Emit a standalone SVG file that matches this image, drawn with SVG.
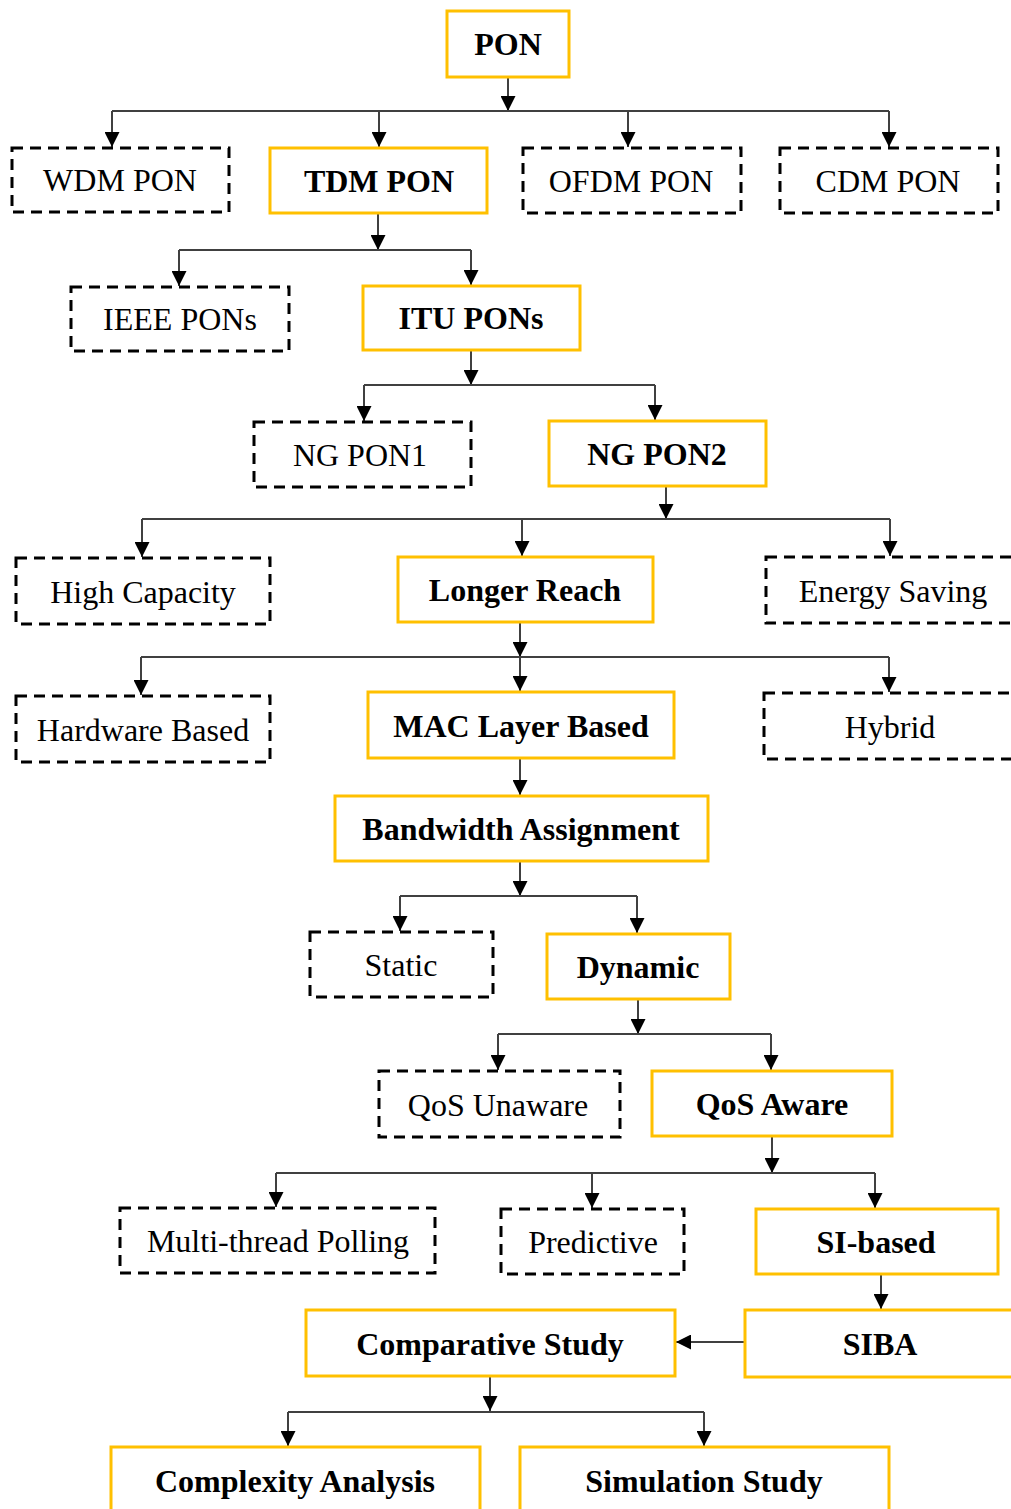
<svg xmlns="http://www.w3.org/2000/svg" width="1011" height="1509" viewBox="0 0 1011 1509">
<style>
.y{fill:#fff;stroke:#FFC000;stroke-width:3}
.d{fill:#fff;stroke:#000;stroke-width:3;stroke-dasharray:11 7}
.t{font-family:"Liberation Serif","Times New Roman",serif;font-size:32px;text-anchor:middle;fill:#000}
.b{font-weight:bold}
.c{fill:none;stroke:#404040;stroke-width:2}
.a{marker-end:url(#ah)}
</style>
<defs>
<marker id="ah" markerUnits="userSpaceOnUse" markerWidth="15" markerHeight="15" refX="15" refY="7.5" orient="auto" viewBox="0 0 15 15">
<path d="M0,0 L15,7.5 L0,15 z" fill="#000"/>
</marker>
</defs>
<rect width="1011" height="1509" fill="#fff"/>
<g id="connectors">
<path class="c a" d="M508,77 V111"/>
<path class="c" d="M112,111 H889"/>
<path class="c a" d="M112,111 V147"/>
<path class="c a" d="M379,111 V147"/>
<path class="c a" d="M628,111 V147"/>
<path class="c a" d="M889,111 V147"/>
<path class="c a" d="M378,213 V250"/>
<path class="c" d="M179,250 H471"/>
<path class="c a" d="M179,250 V286"/>
<path class="c a" d="M471,250 V285"/>
<path class="c a" d="M471,350 V385"/>
<path class="c" d="M364,385 H655"/>
<path class="c a" d="M364,385 V421"/>
<path class="c a" d="M655,385 V420"/>
<path class="c a" d="M666,486 V519"/>
<path class="c" d="M142,519 H890"/>
<path class="c a" d="M142,519 V557"/>
<path class="c a" d="M522,519 V556"/>
<path class="c a" d="M890,519 V556"/>
<path class="c a" d="M520,622 V657"/>
<path class="c" d="M141,657 H889"/>
<path class="c a" d="M141,657 V695"/>
<path class="c a" d="M520,657 V691"/>
<path class="c a" d="M889,657 V692"/>
<path class="c a" d="M520,758 V795"/>
<path class="c a" d="M520,861 V896"/>
<path class="c" d="M400,896 H637"/>
<path class="c a" d="M400,896 V931"/>
<path class="c a" d="M637,896 V933"/>
<path class="c a" d="M638,999 V1034"/>
<path class="c" d="M498,1034 H771"/>
<path class="c a" d="M498,1034 V1070"/>
<path class="c a" d="M771,1034 V1070"/>
<path class="c a" d="M772,1136 V1173"/>
<path class="c" d="M276,1173 H875"/>
<path class="c a" d="M276,1173 V1207"/>
<path class="c a" d="M592,1173 V1208"/>
<path class="c a" d="M875,1173 V1208"/>
<path class="c a" d="M881,1274 V1309"/>
<path class="c a" d="M745,1342 H676"/>
<path class="c a" d="M490,1376 V1411"/>
<path class="c" d="M288,1412 H704"/>
<path class="c a" d="M288,1412 V1446"/>
<path class="c a" d="M704,1412 V1446"/>
</g>
<g id="pon"><rect class="y" x="447" y="11" width="122" height="66"/><text class="t b" x="508" y="55">PON</text></g>
<g id="wdm"><rect class="d" x="12" y="148" width="217" height="64"/><text class="t" x="120" y="191">WDM PON</text></g>
<g id="tdm"><rect class="y" x="270" y="148" width="217" height="65"/><text class="t b" x="379" y="192">TDM PON</text></g>
<g id="ofdm"><rect class="d" x="523" y="148" width="218" height="65"/><text class="t" x="631" y="192">OFDM PON</text></g>
<g id="cdm"><rect class="d" x="780" y="148" width="218" height="65"/><text class="t" x="888" y="192">CDM PON</text></g>
<g id="ieee"><rect class="d" x="71" y="287" width="218" height="64"/><text class="t" x="180" y="330">IEEE PONs</text></g>
<g id="itu"><rect class="y" x="363" y="286" width="217" height="64"/><text class="t b" x="471" y="329">ITU PONs</text></g>
<g id="ngpon1"><rect class="d" x="254" y="422" width="217" height="65"/><text class="t" x="360" y="466">NG PON1</text></g>
<g id="ngpon2"><rect class="y" x="549" y="421" width="217" height="65"/><text class="t b" x="657" y="465">NG PON2</text></g>
<g id="highcap"><rect class="d" x="16" y="558" width="254" height="66"/><text class="t" x="143" y="603">High Capacity</text></g>
<g id="longer"><rect class="y" x="398" y="557" width="255" height="65"/><text class="t b" x="525" y="601">Longer Reach</text></g>
<g id="energy"><rect class="d" x="766" y="557" width="260" height="66"/><text class="t" x="893" y="602">Energy Saving</text></g>
<g id="hardware"><rect class="d" x="16" y="696" width="254" height="66"/><text class="t" x="143" y="741">Hardware Based</text></g>
<g id="mac"><rect class="y" x="368" y="692" width="306" height="66"/><text class="t b" x="521" y="737">MAC Layer Based</text></g>
<g id="hybrid"><rect class="d" x="764" y="693" width="262" height="66"/><text class="t" x="890" y="738">Hybrid</text></g>
<g id="bandwidth"><rect class="y" x="335" y="796" width="373" height="65"/><text class="t b" x="521" y="840">Bandwidth Assignment</text></g>
<g id="static"><rect class="d" x="310" y="932" width="183" height="65"/><text class="t" x="401" y="976">Static</text></g>
<g id="dynamic"><rect class="y" x="547" y="934" width="183" height="65"/><text class="t b" x="638" y="978">Dynamic</text></g>
<g id="qosunaware"><rect class="d" x="379" y="1071" width="241" height="66"/><text class="t" x="498" y="1116">QoS Unaware</text></g>
<g id="qosaware"><rect class="y" x="652" y="1071" width="240" height="65"/><text class="t b" x="772" y="1115">QoS Aware</text></g>
<g id="multithread"><rect class="d" x="120" y="1208" width="315" height="65"/><text class="t" x="278" y="1252">Multi-thread Polling</text></g>
<g id="predictive"><rect class="d" x="501" y="1209" width="183" height="65"/><text class="t" x="593" y="1253">Predictive</text></g>
<g id="sibased"><rect class="y" x="756" y="1209" width="242" height="65"/><text class="t b" x="876" y="1253">SI-based</text></g>
<g id="comparative"><rect class="y" x="306" y="1310" width="369" height="66"/><text class="t b" x="490" y="1355">Comparative Study</text></g>
<g id="siba"><rect class="y" x="745" y="1310" width="280" height="67"/><text class="t b" x="880" y="1355">SIBA</text></g>
<g id="complexity"><rect class="y" x="111" y="1447" width="369" height="80"/><text class="t b" x="295" y="1492">Complexity Analysis</text></g>
<g id="simulation"><rect class="y" x="520" y="1447" width="369" height="80"/><text class="t b" x="704" y="1492">Simulation Study</text></g>
</svg>
